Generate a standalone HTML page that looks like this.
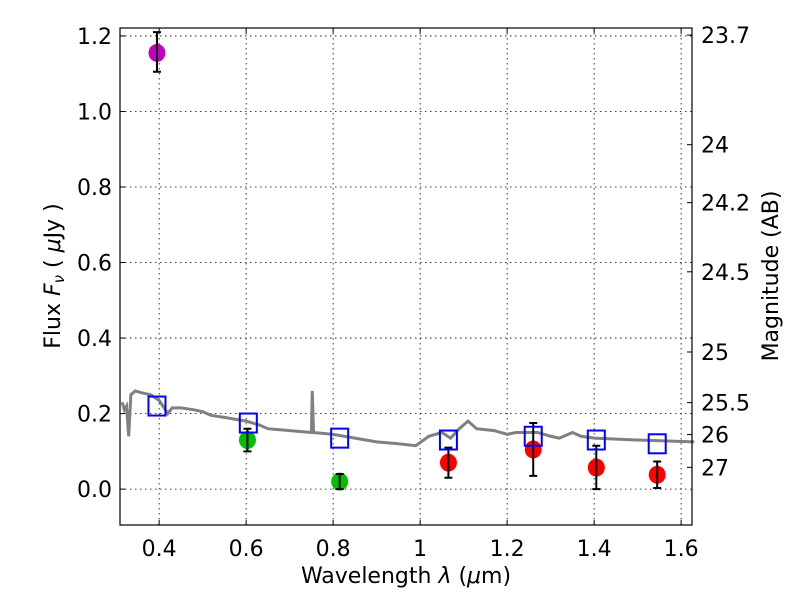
<!DOCTYPE html>
<html><head><meta charset="utf-8"><style>
body{margin:0;background:#fff}
svg text{font-family:"DejaVu Sans","Liberation Sans",sans-serif;fill:#000}
</style></head><body>
<svg id="chart" width="800" height="600" xmlns="http://www.w3.org/2000/svg">
<g id="grid"></g>
<g id="spec"></g>
<g id="marks"></g>
<g id="axes"></g>
<text x="406" y="583" font-size="22" text-anchor="middle">Wavelength  <tspan font-style="italic">λ</tspan> (<tspan font-style="italic">μ</tspan>m)</text>
<text transform="translate(60,276) rotate(-90)" font-size="22" text-anchor="middle">Flux  <tspan font-style="italic">F<tspan font-size="15" dy="4">ν</tspan></tspan><tspan dy="-4">  ( </tspan><tspan font-style="italic">μ</tspan>Jy )</text>
<text transform="translate(778,276) rotate(-90)" font-size="22" text-anchor="middle">Magnitude (AB)</text>
</svg>
<script>
const xTicks=[0.4,0.6,0.8,1.0,1.2,1.4,1.6];
const xTickLabels=["0.4","0.6","0.8","1","1.2","1.4","1.6"];
const yTicks=[0,0.2,0.4,0.6,0.8,1.0,1.2];
const yTickLabels=["0.0","0.2","0.4","0.6","0.8","1.0","1.2"];
const magTicks=[23.7,24,24.2,24.5,25,25.5,26,27];
const magLabels=["23.7","24","24.2","24.5","25","25.5","26","27"];
const specWave=[0.315,0.32,0.325,0.33,0.335,0.345,0.36,0.38,0.4,0.42,0.43,0.45,0.48,0.5,0.52,0.55,0.6,0.63,0.65,0.7,0.75,0.752,0.755,0.8,0.85,0.9,0.95,0.99,1.02,1.05,1.07,1.09,1.11,1.13,1.17,1.2,1.22,1.27,1.3,1.32,1.35,1.37,1.4,1.5,1.63];
const specFlux=[0.23,0.21,0.22,0.14,0.25,0.26,0.255,0.25,0.235,0.2,0.215,0.215,0.21,0.205,0.195,0.19,0.18,0.17,0.16,0.155,0.15,0.26,0.15,0.145,0.135,0.125,0.12,0.115,0.14,0.15,0.135,0.16,0.18,0.16,0.155,0.145,0.15,0.15,0.14,0.135,0.15,0.14,0.135,0.13,0.125];
const modelWave=[0.395,0.605,0.815,1.065,1.26,1.405,1.545];
const modelFlux=[0.22,0.175,0.135,0.13,0.14,0.13,0.12];
const obsWave=[0.395,0.603,0.815,1.065,1.26,1.405,1.545];
const obsFlux=[1.155,0.13,0.02,0.07,0.105,0.057,0.038];
const obsLo=[1.105,0.10,0.0,0.03,0.035,0.0,0.003];
const obsHi=[1.21,0.16,0.04,0.11,0.175,0.115,0.073];
const obsColor=["#bf00bf","#00bf00","#00bf00","#ff0000","#ff0000","#ff0000","#ff0000"];
const L=120,R=692,T=28,B=525,X0=0.31,X1=1.625,Y0=-0.095,Y1=1.221;
const sx=v=>L+(v-X0)/(X1-X0)*(R-L), sy=v=>B-(v-Y0)/(Y1-Y0)*(B-T);
const NS="http://www.w3.org/2000/svg";
function mk(p,t,a){const e=document.createElementNS(NS,t);for(const k in a)e.setAttribute(k,a[k]);p.appendChild(e);return e;}
const grid=document.getElementById('grid'),axes=document.getElementById('axes'),spec=document.getElementById('spec'),marks=document.getElementById('marks');
xTicks.forEach((v,i)=>{const x=sx(v);
 const g=mk(grid,'line',{x1:x,x2:x,y1:T,y2:B,stroke:'#000','stroke-width':0.8,'stroke-dasharray':'1.5,3.5'});
 
 mk(axes,'line',{x1:x,x2:x,y1:B,y2:B-5,stroke:'#000'});mk(axes,'line',{x1:x,x2:x,y1:T,y2:T+5,stroke:'#000'});
 const t=mk(axes,'text',{x:x,y:B+31,'font-size':22,'text-anchor':'middle'});t.textContent=xTickLabels[i];
 });
yTicks.forEach((v,i)=>{const y=sy(v);
 const g=mk(grid,'line',{x1:L,x2:R,y1:y,y2:y,stroke:'#000','stroke-width':0.8,'stroke-dasharray':'1.5,3.5'});
 
 mk(axes,'line',{x1:L,x2:L+5,y1:y,y2:y,stroke:'#000'});
 const t=mk(axes,'text',{x:L-8,y:y+8,'font-size':22,'text-anchor':'end'});t.textContent=yTickLabels[i];
 });
magTicks.forEach((m,i)=>{const y=sy(Math.pow(10,(23.9-m)/2.5));
 mk(axes,'line',{x1:R,x2:R-5,y1:y,y2:y,stroke:'#000'});
 const t=mk(axes,'text',{x:R+9,y:y+8,'font-size':22});t.textContent=magLabels[i];
 });
const fr=mk(axes,'rect',{x:L,y:T,width:R-L,height:B-T,fill:'none',stroke:'#000','stroke-width':1.2});

const sp=mk(spec,'polyline',{points:specWave.map((w,i)=>sx(w)+','+sy(specFlux[i])).join(' '),fill:'none',stroke:'#808080','stroke-width':3});

obsWave.forEach((w,i)=>{const x=sx(w);
 const c=mk(marks,'ellipse',{cx:x,cy:sy(obsFlux[i]),rx:8.5,ry:9,fill:obsColor[i]});
 
 const e=mk(marks,'path',{d:`M${x},${sy(obsLo[i])}V${sy(obsHi[i])}M${x-4},${sy(obsLo[i])}h8M${x-4},${sy(obsHi[i])}h8`,stroke:'#000','stroke-width':2,fill:'none'});
 });
modelWave.forEach((w,i)=>{
 const r=mk(marks,'rect',{x:sx(w)-8.5,y:sy(modelFlux[i])-9.5,width:17,height:19,fill:'none',stroke:'#0000ff','stroke-width':2});
 });
</script>
</body></html>
